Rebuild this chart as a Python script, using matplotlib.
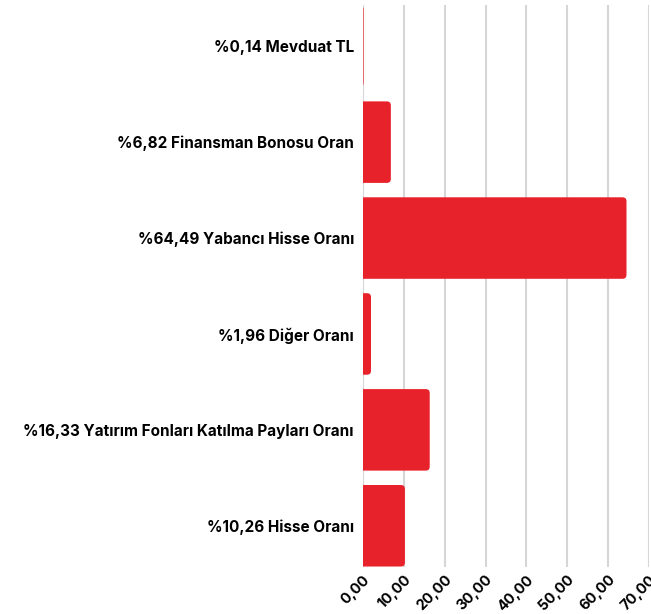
import numpy as np
import matplotlib.pyplot as plt
from matplotlib.patches import FancyBboxPatch
from matplotlib.ticker import FuncFormatter

etiketler = [
    "%0,14 Mevduat TL",
    "%6,82 Finansman Bonosu Oran",
    "%64,49 Yabancı Hisse Oranı",
    "%1,96 Diğer Oranı",
    "%16,33 Yatırım Fonları Katılma Payları Oranı",
    "%10,26 Hisse Oranı",
]
oranlar = [0.14, 6.82, 64.49, 1.96, 16.33, 10.26]
xticks = [0, 10, 20, 30, 40, 50, 60, 70]

kirmizi = "#e8222a"
plt.rcParams['font.family'] = ['Inter', 'DejaVu Sans']

fig = plt.figure(figsize=(6.51, 6.14), dpi=100)
ax = fig.add_axes([363 / 651, 1 - 567 / 614, 286 / 651, 562 / 614])

ax.set_xlim(0, 70)
ax.set_ylim(len(oranlar) - 0.57, -0.43)

# px -> data birimleri
x_px = 70 / 286
y_px = 1 / 96
yuk = 0.85
for i, v in enumerate(oranlar):
    kutu = FancyBboxPatch((-1.5, i - yuk / 2), v + 1.5, yuk,
                          boxstyle="round,pad=0,rounding_size=%f" % (4 * x_px),
                          mutation_aspect=y_px / x_px,
                          facecolor=kirmizi, edgecolor="none", zorder=3)
    ax.add_patch(kutu)

ax.set_yticks(range(len(etiketler)))
ax.set_yticklabels(etiketler, fontweight="bold", fontsize=11)
ax.set_xticks(xticks)
ax.xaxis.set_major_formatter(FuncFormatter(lambda v, p: f"{v:.2f}".replace(".", ",")))
for t in ax.get_xticklabels():
    t.set_rotation(45)
    t.set_ha("right")
    t.set_va("top")
    t.set_rotation_mode("anchor")
    t.set_fontweight("bold")
    t.set_fontsize(10.5)

ax.tick_params(axis="both", length=0)
ax.tick_params(axis="y", pad=6.5)
ax.tick_params(axis="x", pad=4)
ax.grid(axis="x", color="#d6d6d6", linewidth=1.5, zorder=0)
for s in ax.spines.values():
    s.set_visible(False)

fig.savefig("out.png", dpi=100, facecolor="white")
